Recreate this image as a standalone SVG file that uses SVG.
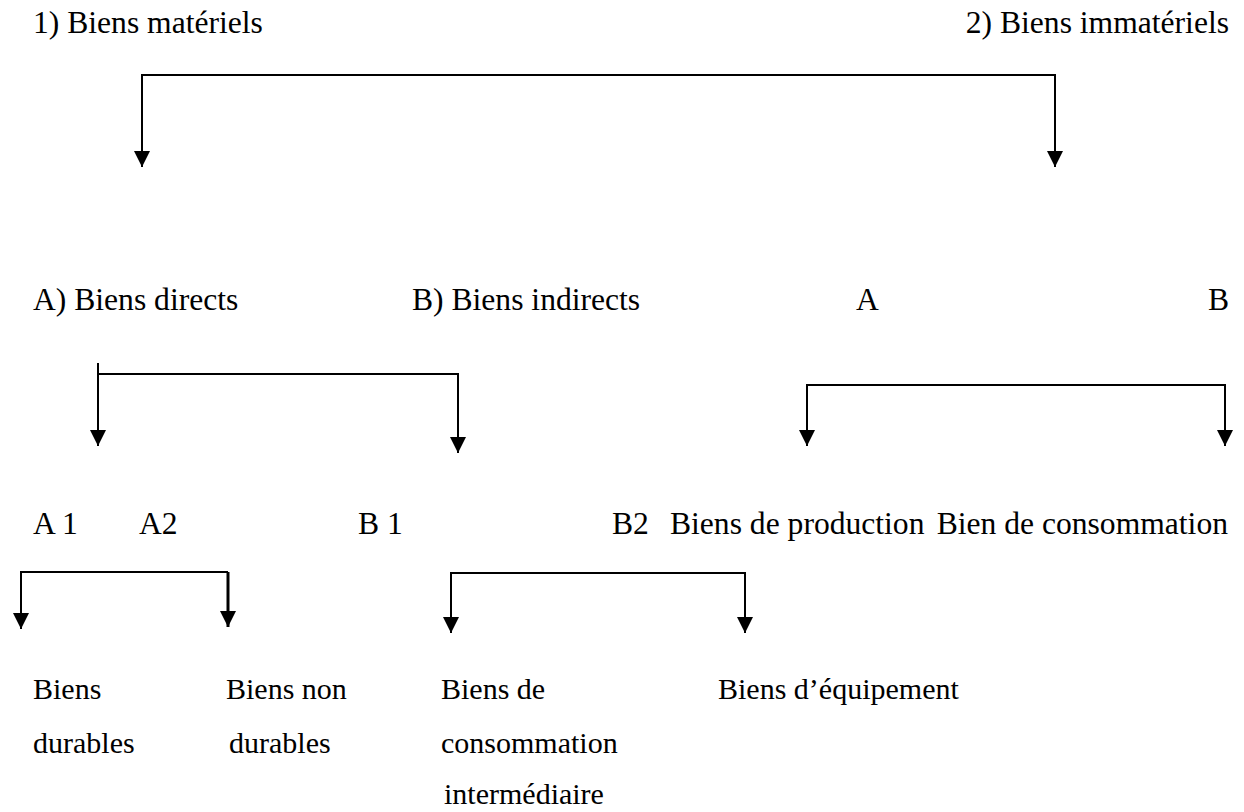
<svg xmlns="http://www.w3.org/2000/svg" width="1244" height="812" viewBox="0 0 1244 812">
<style>
text{font-family:"Liberation Serif","Times New Roman",serif;font-size:31.6px;fill:#000}
.b{font-size:30px}
.c{fill:none;stroke:#000;stroke-width:2}
</style>
<defs>
<marker id="ah" markerUnits="userSpaceOnUse" viewBox="0 0 16 16" markerWidth="16" markerHeight="16" refX="8" refY="16" orient="0">
<path d="M0,0 L16,0 L8,16 Z" fill="#000"/>
</marker>
</defs>
<rect width="1244" height="812" fill="#fff"/>
<g id="connectors">
<path class="c" d="M142,167 V75 H1055 V167" marker-end="url(#ah)" marker-start="url(#ah)"/>
<path class="c" d="M98,363 V446" marker-end="url(#ah)"/>
<path class="c" d="M98,374 H458 V453" marker-end="url(#ah)"/>
<path class="c" d="M807,446 V385 H1225 V446" marker-start="url(#ah)" marker-end="url(#ah)"/>
<path class="c" d="M21,629 V572 H228" marker-start="url(#ah)"/>
<path class="c" style="stroke-width:3" d="M228,572 V627" marker-end="url(#ah)"/>
<path class="c" d="M451,633 V573 H745 V633" marker-start="url(#ah)" marker-end="url(#ah)"/>
</g>
<g id="n-biens-materiels"><text x="33" y="33">1) Biens matériels</text></g>
<g id="n-biens-immateriels"><text x="1229" y="33" text-anchor="end">2) Biens immatériels</text></g>
<g id="n-biens-directs"><text x="33" y="310">A) Biens directs</text></g>
<g id="n-biens-indirects"><text x="412" y="310">B) Biens indirects</text></g>
<g id="n-a"><text x="856" y="310">A</text></g>
<g id="n-b"><text x="1208" y="310">B</text></g>
<g id="n-a1"><text x="33" y="534">A 1</text></g>
<g id="n-a2"><text x="139" y="534">A2</text></g>
<g id="n-b1"><text x="358" y="534">B 1</text></g>
<g id="n-b2"><text x="612" y="534">B2</text></g>
<g id="n-production"><text x="670" y="534">Biens de production</text></g>
<g id="n-consommation"><text x="1228" y="534" text-anchor="end">Bien de consommation</text></g>
<g id="n-durables"><text class="b" x="33" y="699">Biens</text><text class="b" x="33" y="753">durables</text></g>
<g id="n-non-durables"><text class="b" x="226" y="699">Biens non</text><text class="b" x="229" y="753">durables</text></g>
<g id="n-intermediaire"><text class="b" x="441" y="699">Biens de</text><text class="b" x="441" y="753">consommation</text><text class="b" x="444" y="804">intermédiaire</text></g>
<g id="n-equipement"><text class="b" x="718" y="699">Biens d’équipement</text></g>
</svg>
